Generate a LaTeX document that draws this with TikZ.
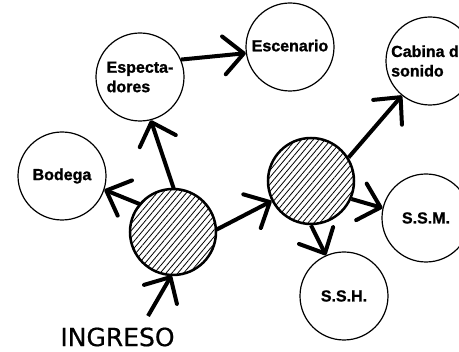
\documentclass[tikz,border=0pt]{standalone}
\usepackage{fontspec}
\setmainfont{Liberation Sans}
\newfontfamily\labfont{Liberation Sans}[BoldFeatures={FakeBold=1.2}]
\newfontfamily\ingfont{DejaVu Sans}[FakeBold=0.6]
\usetikzlibrary{arrows.meta,patterns.meta}
\begin{document}
\begin{tikzpicture}[x=1pt,y=1pt,
  place/.style={circle,draw,line width=1.2pt,minimum size=88pt,inner sep=0pt,
    font=\labfont\fontsize{16}{19.5}\selectfont\bfseries,align=left},
  hub/.style={circle,draw,line width=2.5pt,minimum size=86pt,inner sep=0pt,
    pattern={Lines[angle=50,distance=4.5pt,line width=0.8pt]}},
  arr/.style={line width=4pt,-{Straight Barb[length=20pt,width=38pt,line width=4pt,round]}}]
\useasboundingbox (0,0) rectangle (459,352);
\node[place] (esp) at (140,275) {Especta-\\dores};
\node[place] (esc) at (290,305) {\raisebox{3pt}{Escenario}};
\node[place] (cab) at (430,291) {\hspace*{-10pt}Cabina d\\\hspace*{-10pt}sonido};
\node[place] (bod) at (62,176) {Bodega};
\node[hub] (h1) at (173,120) {};
\node[hub] (h2) at (311,171) {};
\node[place] (ssm) at (426,134) {S.S.M.};
\node[place] (ssh) at (344,56) {S.S.H.};
\node[font=\ingfont\fontsize{25}{30}\selectfont,inner sep=0pt] (ing) at (117.5,15) {INGRESO};
\coordinate (ingstart) at (148,36);
\draw[arr] (ingstart) -- (h1.268);
\draw[arr] (h1.140) -- (bod.342);
\draw[arr] (h1.89) -- (esp.284);
\draw[arr] (esp.23) -- (esc.188);
\draw[arr] (h1.3) -- (h2.207);
\draw[arr] (h2.32) -- (cab.231);
\draw[arr] (h2.336) -- (ssm.167);
\draw[arr] (h2.270) -- (ssh.114);
\end{tikzpicture}
\end{document}
